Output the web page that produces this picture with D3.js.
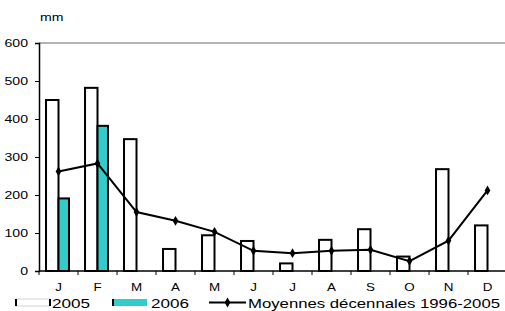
<!DOCTYPE html>
<html>
<head>
<meta charset="utf-8">
<script src="https://cdn.jsdelivr.net/npm/d3@7"></script>
<style>
  body { margin: 0; background: #fff; }
  text { font-family: "Liberation Sans", Arial, sans-serif; fill: #000; }
</style>
</head>
<body>
<svg id="chart" width="505" height="311"></svg>
<script>
// donnees
const months = ["J", "F", "M", "A", "M", "J", "J", "A", "S", "O", "N", "D"];
const rain2005 = [450, 482, 347, 58, 94, 79, 20, 82, 110, 38, 268, 120];
const rain2006 = [191, 382, null, null, null, null, null, null, null, null, null, null];
const decade = [262, 283, 155, 132, 103, 53, 47, 53, 56, 26, 80, 212];
const yTicks = [0, 100, 200, 300, 400, 500, 600];
const seriesNames = ["2005", "2006"];

const svg = d3.select("#chart");
const margin = { top: 43, left: 39, bottom: 40 };
const plotRight = 507;
const plotBottom = 271;
const sx = 1.28; // texte etire horizontalement

const x0 = d3.scaleBand()
    .domain(d3.range(months.length))
    .range([margin.left, plotRight])
    .paddingInner(0.36)
    .paddingOuter(0.18);

const x1 = d3.scaleBand()
    .domain(seriesNames)
    .range([0, x0.bandwidth()]);

const y = d3.scaleLinear()
    .domain([0, 600])
    .range([plotBottom, margin.top]);

const step = x0.step();

//ligne grise du haut
svg.append("line")
    .attr("x1", margin.left).attr("x2", 505)
    .attr("y1", y(600)).attr("y2", y(600))
    .attr("stroke", "#b4b4b4").attr("stroke-width", 2);

//barres
const groups = svg.append("g")
    .selectAll("g")
    .data(months.map((m, i) => i))
    .join("g")
    .attr("transform", i => `translate(${x0(i)},0)`);

groups.append("rect")
    .attr("x", x1("2005"))
    .attr("width", x1.bandwidth())
    .attr("y", i => y(rain2005[i]))
    .attr("height", i => y(0) - y(rain2005[i]))
    .attr("fill", "#fff")
    .attr("stroke", "#000")
    .attr("stroke-width", 2);

groups.filter(i => rain2006[i] != null)
    .append("rect")
    .attr("x", x1("2006"))
    .attr("width", x1.bandwidth() - 2)
    .attr("y", i => y(rain2006[i]))
    .attr("height", i => y(0) - y(rain2006[i]))
    .attr("fill", "#33cccc")
    .attr("stroke", "#000")
    .attr("stroke-width", 2);

//axe Y
const yAxis = svg.append("g")
    .attr("transform", `translate(${margin.left},0)`)
    .call(d3.axisLeft(y).tickValues(yTicks).tickSize(4).tickPadding(0).tickFormat(d3.format("d")));
yAxis.select(".domain").attr("stroke", "#000").attr("stroke-width", 1.5);
yAxis.selectAll(".tick line").attr("stroke", "#000");
yAxis.selectAll(".tick text")
    .attr("x", -11 / sx)
    .attr("dy", "0.36em")
    .attr("transform", `scale(${sx},1)`)
    .style("font-size", "11px")
    .style("font-family", "Liberation Sans, Arial, sans-serif");

//axe X
svg.append("line")
    .attr("x1", margin.left).attr("x2", 505)
    .attr("y1", plotBottom).attr("y2", plotBottom)
    .attr("stroke", "#000").attr("stroke-width", 1.5);

svg.append("g")
    .selectAll("line")
    .data(d3.range(months.length + 1))
    .join("line")
    .attr("x1", i => margin.left + i * step)
    .attr("x2", i => margin.left + i * step)
    .attr("y1", plotBottom)
    .attr("y2", plotBottom + 4)
    .attr("stroke", "#000");

svg.append("g")
    .selectAll("text")
    .data(months)
    .join("text")
    .attr("transform", (m, i) => `translate(${x0(i) + x0.bandwidth() / 2},290.5) scale(${sx},1)`)
    .attr("text-anchor", "middle")
    .style("font-size", "10.5px")
    .text(m => m);

//unite
svg.append("text")
    .attr("transform", `translate(40,21) scale(${sx},1)`)
    .style("font-size", "11px")
    .text("mm");

//moyennes decennales
const valueLine = d3.line()
    .x((d, i) => x0(i) + x0.bandwidth() / 2)
    .y(d => y(d));

svg.append("path")
    .datum(decade)
    .attr("fill", "none")
    .attr("stroke", "#000")
    .attr("stroke-width", 2)
    .attr("d", valueLine);

svg.append("g")
    .selectAll("path")
    .data(decade)
    .join("path")
    .attr("d", d3.symbol(d3.symbolDiamond, 28))
    .attr("transform", (d, i) => `translate(${x0(i) + x0.bandwidth() / 2},${y(d)})`)
    .attr("fill", "#000");

//legende
const legend = svg.append("g");
const ly = 302.5;

legend.append("rect")
    .attr("x", 16).attr("y", ly - 3.5).attr("width", 34).attr("height", 7)
    .attr("fill", "#fff").attr("stroke", "#c8c8c8").attr("stroke-width", 0.8);
legend.append("line").attr("x1", 16).attr("x2", 16).attr("y1", ly - 3.5).attr("y2", ly + 3.5)
    .attr("stroke", "#000").attr("stroke-width", 2);
legend.append("line").attr("x1", 50).attr("x2", 50).attr("y1", ly - 3.5).attr("y2", ly + 3.5)
    .attr("stroke", "#000").attr("stroke-width", 2);
legend.append("text")
    .attr("x", 52).attr("y", 307.5)
    .attr("textLength", 38).attr("lengthAdjust", "spacingAndGlyphs")
    .style("font-size", "13.5px")
    .text(seriesNames[0]);

legend.append("rect")
    .attr("x", 113).attr("y", ly - 3.5).attr("width", 34).attr("height", 7)
    .attr("fill", "#33cccc");
legend.append("line").attr("x1", 113).attr("x2", 113).attr("y1", ly - 3.5).attr("y2", ly + 3.5)
    .attr("stroke", "#000").attr("stroke-width", 2);
legend.append("text")
    .attr("x", 151).attr("y", 307.5)
    .attr("textLength", 38).attr("lengthAdjust", "spacingAndGlyphs")
    .style("font-size", "13.5px")
    .text(seriesNames[1]);

legend.append("line")
    .attr("x1", 209).attr("x2", 246).attr("y1", ly).attr("y2", ly)
    .attr("stroke", "#000").attr("stroke-width", 2);
legend.append("path")
    .attr("d", d3.symbol(d3.symbolDiamond, 28))
    .attr("transform", `translate(227.5,${ly})`)
    .attr("fill", "#000");
legend.append("text")
    .attr("x", 248).attr("y", 307.5)
    .attr("textLength", 252).attr("lengthAdjust", "spacingAndGlyphs")
    .style("font-size", "13.5px")
    .text("Moyennes décennales 1996-2005");
</script>
</body>
</html>
